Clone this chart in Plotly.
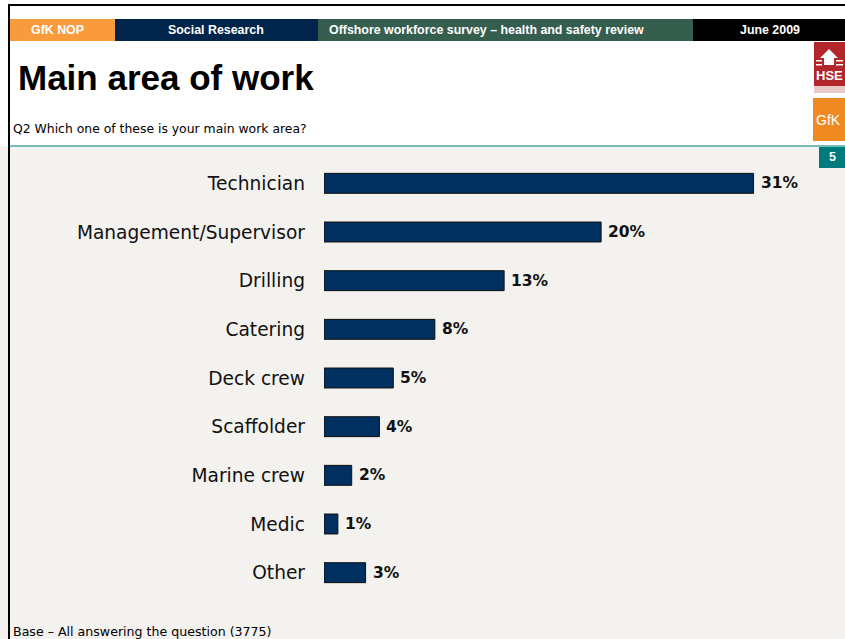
import plotly.graph_objects as go

# Survey answers: main work area (% of respondents)
categories = ["Technician", "Management/Supervisor", "Drilling", "Catering",
              "Deck crew", "Scaffolder", "Marine crew", "Medic", "Other"]
values = [31, 20, 13, 8, 5, 4, 2, 1, 3]
value_labels = [f"{v}%" for v in values]

W, H = 845, 639
ML, MR, MT, MB = 324, 36, 159, 42
PW, PH = W - ML - MR, H - MT - MB

BEIGE = "#f3f2ee"
NAVY = "#00305f"


def px(x):
    return (x - ML) / PW


def py(y):
    return 1 - (y - MT) / PH


fig = go.Figure(go.Bar(
    x=values, y=categories, orientation="h",
    marker=dict(color=NAVY, line=dict(color="#111111", width=1)),
    width=0.41,
    cliponaxis=False,
))

shapes = []


def rect(x0, y0, x1, y1, color):
    shapes.append(dict(type="rect", xref="paper", yref="paper",
                       x0=px(x0), x1=px(x1), y0=py(y1), y1=py(y0),
                       fillcolor=color, line=dict(width=0), layer="below"))


def path(points, color):
    d = "M " + " L ".join(f"{px(x)},{py(y)}" for x, y in points) + " Z"
    shapes.append(dict(type="path", xref="paper", yref="paper", path=d,
                       fillcolor=color, line=dict(width=0), layer="above"))


# white header area above the teal rule
rect(0, 0, W, 146, "white")
# header bars
rect(10, 19, 115, 41, "#f99b3c")
rect(115, 19, 318, 41, "#00244a")
rect(318, 19, 693, 41, "#365e4f")
rect(693, 19, W, 41, "#000000")
# HSE logo block with house emblem
rect(814, 42, W, 86, "#b3262b")
rect(814, 86, W, 93, "#e9c9c9")
path([(820, 58), (829, 49), (838, 58), (834, 58), (834, 65), (824, 65), (824, 58)], "white")
rect(816, 60, 822, 61.5, "white")
rect(836, 60, 843, 61.5, "white")
rect(816, 64, 822, 65.5, "white")
rect(836, 64, 843, 65.5, "white")
# GfK logo block
rect(813, 98, W, 141, "#ef8a22")
# page number box
rect(819, 147, W, 168, "#007a7a")
# teal rule
rect(10, 145, W, 147, "#74bcbc")
# black frame (top and left)
rect(8, 4, W, 6, "#000000")
rect(8, 4, 10, H, "#000000")

annotations = []


def text(x, y, s, size, color="black", family="DejaVu Sans", bold=False, anchor="left"):
    annotations.append(dict(x=px(x), y=py(y), xref="paper", yref="paper", text=s,
                            showarrow=False, xanchor=anchor, yanchor="middle",
                            font=dict(family=family, size=size, color=color,
                                      weight="bold" if bold else "normal")))


text(57, 30, "GfK NOP", 12.4, "white", "Liberation Sans", True, "center")
text(216, 30, "Social Research", 12.4, "white", "Liberation Sans", True, "center")
text(327, 30, "Offshore workforce survey \u2013 health and safety review", 12.4, "white",
     "Liberation Sans", True, "left")
text(770, 30, "June 2009", 12.4, "white", "Liberation Sans", True, "center")
text(16, 78, "Main area of work", 35, "black", "Liberation Sans", True, "left")
text(11, 128, "Q2 Which one of these is your main work area?", 12.4, "black", "DejaVu Sans")
text(11, 631, "Base \u2013 All answering the question (3775)", 12.6, "black", "DejaVu Sans")
text(814, 76, "HSE", 13, "white", "Liberation Sans", True, "left")
text(814, 120, "GfK", 14, "white", "Liberation Sans", False, "left")
text(832, 157, "5", 12.5, "white", "Liberation Sans", True, "center")

# value labels placed just past the end of each bar
for cat, v, lab in zip(categories, values, value_labels):
    annotations.append(dict(x=v, y=cat, xref="x", yref="y", text=lab,
                            showarrow=False, xanchor="left", yanchor="middle",
                            xshift=5,
                            font=dict(family="DejaVu Sans", size=15.5, color="#111111",
                                      weight="bold")))

fig.update_layout(
    width=W, height=H,
    margin=dict(l=ML, r=MR, t=MT, b=MB, pad=0),
    paper_bgcolor=BEIGE, plot_bgcolor="rgba(0,0,0,0)",
    showlegend=False,
    xaxis=dict(range=[0, 35], visible=False),
    yaxis=dict(autorange="reversed", showgrid=False, showline=False, zeroline=False,
               ticks="", ticklabelstandoff=18,
               tickfont=dict(family="DejaVu Sans", size=18.6, color="#111111")),
    shapes=shapes, annotations=annotations,
)

fig.write_html("out.html")
